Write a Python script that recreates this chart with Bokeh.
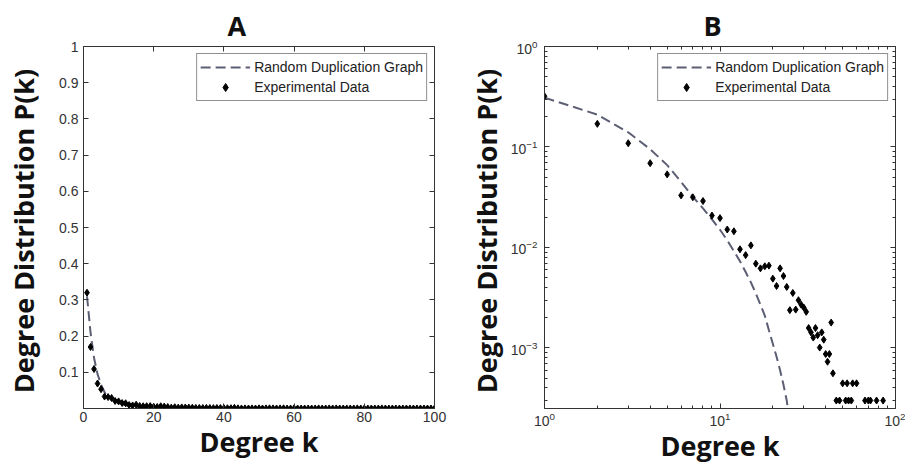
from bokeh.plotting import figure
from bokeh.layouts import row
from bokeh.models import (Range1d, LinearAxis, LogAxis, FixedTicker,
                          CustomJSTickFormatter, Legend, LegendItem)
from bokeh.embed import file_html
from bokeh.resources import INLINE

# ---------------- data ----------------
degree = list(range(1, 101))
p_experimental = [
    0.32, 0.17, 0.109, 0.069, 0.0534, 0.033, 0.0316, 0.029, 0.0208, 0.0196,
    0.0151, 0.0145, 0.0096, 0.0084, 0.0105, 0.0069, 0.0062, 0.0065, 0.0066, 0.0049,
    0.00414, 0.0062, 0.0052, 0.00405, 0.00238, 0.00353, 0.00241, 0.00299, 0.0027, 0.00253,
    0.00229, 0.00158, 0.00143, 0.00127, 0.00158, 0.00134, 0.00101, 0.00143, 0.00121, 0.00087,
    0.00073, 0.00087, 0.00179, 0.00056, 0.0, 0.0003, 0.0, 0.0003, 0.0, 0.000445,
    0.0, 0.0003, 0.000445, 0.0003, 0.0, 0.0003, 0.000445, 0.0, 0.0, 0.000445,
    0.0, 0.0, 0.0, 0.0, 0.0, 0.0, 0.0003, 0.0, 0.0, 0.0003,
    0.0, 0.0003, 0.0, 0.0, 0.0, 0.0, 0.0, 0.0003, 0.0, 0.0,
    0.0, 0.0, 0.0, 0.0, 0.0003, 0.0, 0.0, 0.0, 0.0, 0.0,
    0.0, 0.0, 0.0, 0.0, 0.0, 0.0, 0.0, 0.0, 0.0, 0.0,
]
model_degree = list(range(1, 26))
p_model = [
    0.31, 0.21, 0.14, 0.095, 0.066, 0.045, 0.032, 0.0245, 0.019, 0.015,
    0.0118, 0.0092, 0.0073, 0.0057, 0.0045, 0.0035, 0.0027, 0.0021, 0.0015, 0.0011,
    0.00082, 0.0006, 0.00043, 0.0003, 0.00018,
]

panel_titles = ["A", "B"]
x_label = "Degree k"
y_label = "Degree Distribution  P(k)"
series_names = ["Random Duplication Graph", "Experimental Data"]

a_x_ticks = [0, 20, 40, 60, 80, 100]
a_y_ticks = [0.1, 0.2, 0.3, 0.4, 0.5, 0.6, 0.7, 0.8, 0.9, 1.0]
a_y_overrides = {1.0: "1"}
b_x_ticks = [1, 10, 100]
b_y_ticks = [0.001, 0.01, 0.1, 1]
b_y_min = 2.5e-4

# ---------------- styling ----------------
LINE_COLOR = "#5c5f74"
AX_COLOR = "#333333"
BOLD_FONT = "Open Sans"
TICK_FONT = "Liberation Sans"
LABEL_SIZE = "27px"


def minor_from(majors):
    out = []
    for m in majors[:-1]:
        out += [m * f for f in range(2, 10)]
    return out


def style_axis(ax, tick_standoff, label_standoff):
    ax.major_label_text_font = TICK_FONT
    ax.major_label_text_font_size = "14px"
    ax.major_label_text_color = AX_COLOR
    ax.axis_line_color = AX_COLOR
    ax.major_tick_line_color = AX_COLOR
    ax.minor_tick_line_color = AX_COLOR
    ax.major_tick_in = 5
    ax.major_tick_out = 0
    ax.minor_tick_in = 3
    ax.minor_tick_out = 0
    ax.major_label_standoff = tick_standoff
    ax.axis_label_standoff = label_standoff
    ax.axis_label_text_font = BOLD_FONT
    ax.axis_label_text_font_style = "bold"
    ax.axis_label_text_font_size = LABEL_SIZE
    ax.axis_label_text_color = "#111111"


def blank_axis(cls, ticker):
    ax = cls(ticker=ticker, formatter=CustomJSTickFormatter(code="return ''"))
    ax.major_label_standoff = 0
    ax.axis_line_color = None
    ax.major_tick_line_color = AX_COLOR
    ax.minor_tick_line_color = AX_COLOR
    ax.major_tick_in = 5
    ax.major_tick_out = 0
    ax.minor_tick_in = 3
    ax.minor_tick_out = 0
    return ax


def add_legend(p, line_r, pts_r):
    leg = Legend(items=[LegendItem(label=series_names[0], renderers=[line_r]),
                        LegendItem(label=series_names[1], renderers=[pts_r])],
                 location="top_right")
    leg.margin = 7
    leg.padding = 3
    leg.spacing = 0
    leg.glyph_width = 50
    leg.glyph_height = 20
    leg.label_height = 20
    leg.label_standoff = 4
    leg.label_text_font = TICK_FONT
    leg.label_text_font_size = "14px"
    leg.label_text_color = "#222222"
    leg.border_line_color = "#222222"
    leg.border_line_width = 1
    leg.background_fill_alpha = 1
    p.add_layout(leg)


def style_title(p, offset):
    p.title.align = "left"
    p.title.offset = offset
    p.title.text_font = BOLD_FONT
    p.title.text_font_style = "bold"
    p.title.text_font_size = LABEL_SIZE
    p.title.text_color = "#111111"
    p.title.standoff = 6


def add_points(p, xs, ys):
    return p.scatter(xs, ys, marker="diamond", size=7,
                     fill_color="black", line_color="black", line_width=1)


# ---------------- panel A ----------------
pA = figure(width=452, height=468, x_range=Range1d(0, 100), y_range=Range1d(0, 1),
            output_backend="svg", toolbar_location=None, title=panel_titles[0],
            min_border_left=83, min_border_right=18, min_border_top=45, min_border_bottom=60)
style_title(pA, 144)
pA.grid.visible = False
pA.outline_line_color = AX_COLOR
pA.xaxis.ticker = FixedTicker(ticks=a_x_ticks)
pA.yaxis.ticker = FixedTicker(ticks=a_y_ticks)
pA.yaxis.major_label_overrides = a_y_overrides
style_axis(pA.xaxis[0], 3, -2)
style_axis(pA.yaxis[0], 5, 14)
pA.xaxis.axis_label = x_label
pA.yaxis.axis_label = y_label
pA.add_layout(blank_axis(LinearAxis, FixedTicker(ticks=a_y_ticks)), "right")
pA.add_layout(blank_axis(LinearAxis, FixedTicker(ticks=a_x_ticks)), "above")

lineA = pA.line(model_degree, p_model, line_dash="10 5", line_width=2, line_color=LINE_COLOR)
ptsA = add_points(pA, degree, p_experimental)
add_legend(pA, lineA, ptsA)

# ---------------- panel B ----------------
kB = [k for k, v in zip(degree, p_experimental) if v > 0]
vB = [v for v in p_experimental if v > 0]
b_y_minor = [t for t in minor_from([1e-4] + b_y_ticks) if t >= b_y_min]

pB = figure(width=453, height=468, x_axis_type="log", y_axis_type="log",
            x_range=Range1d(1, 100), y_range=Range1d(b_y_min, 1),
            output_backend="svg", toolbar_location=None, title=panel_titles[1],
            min_border_left=92, min_border_right=10, min_border_top=46, min_border_bottom=60)
style_title(pB, 159)
pB.grid.visible = False
pB.outline_line_color = AX_COLOR
pB.xaxis.ticker = FixedTicker(ticks=b_x_ticks, minor_ticks=minor_from(b_x_ticks))
pB.yaxis.ticker = FixedTicker(ticks=b_y_ticks, minor_ticks=b_y_minor)
style_axis(pB.xaxis[0], 3, -2)
style_axis(pB.yaxis[0], 7, 3)
pB.xaxis.axis_label = x_label
pB.yaxis.axis_label = y_label
pB.add_layout(blank_axis(LogAxis, FixedTicker(ticks=b_y_ticks, minor_ticks=b_y_minor)), "right")
pB.add_layout(blank_axis(LogAxis, FixedTicker(ticks=b_x_ticks, minor_ticks=minor_from(b_x_ticks))), "above")

lineB = pB.line(model_degree, p_model, line_dash="10 5", line_width=2, line_color=LINE_COLOR)
ptsB = add_points(pB, kB, vB)
add_legend(pB, lineB, ptsB)

layout = row(pA, pB)
open("out.html", "w").write(file_html(layout, INLINE))
